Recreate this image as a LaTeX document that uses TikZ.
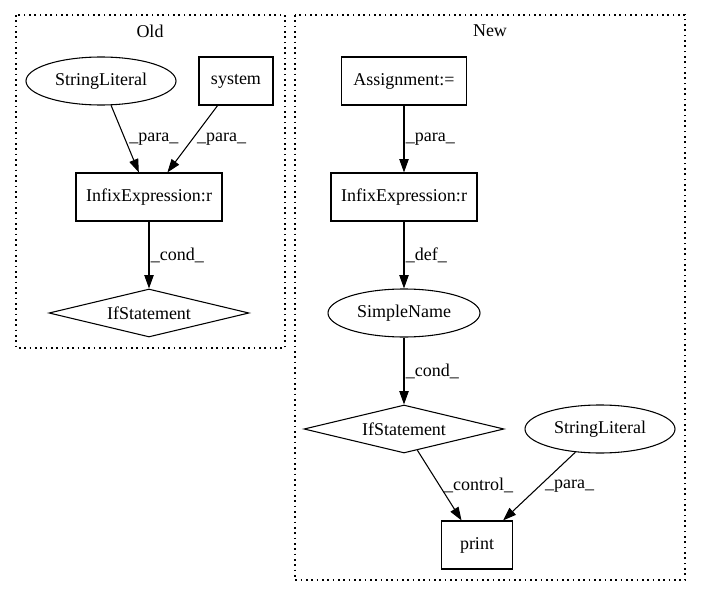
\documentclass[tikz,border=0pt]{standalone}
\usepackage{fontspec}
\setmainfont{Liberation Serif}
\usetikzlibrary{shapes.geometric, arrows.meta}

\begin{document}
\begin{tikzpicture}[x=0.75pt, y=-0.75pt,
  every node/.style={font=\fontsize{13.5}{16}\selectfont},
  box/.style={draw, rectangle, minimum height=36pt, inner sep=2pt, line width=0.8pt},
  oval/.style={draw, ellipse, minimum height=36pt, inner sep=1pt, line width=0.8pt},
  cond/.style={draw, diamond, aspect=4.17, minimum width=150pt, minimum height=36pt, inner sep=0pt, line width=0.8pt},
  edge/.style={-{Triangle[length=10pt,width=7pt]}, line width=0.8pt},
  lbl/.style={anchor=west, inner sep=3pt},
  cluster/.style={draw, dash pattern=on 1.2pt off 2.8pt, line width=0.9pt}
]
\useasboundingbox (0,0) rectangle (701,596);

% clusters
\draw[cluster] (16,15) rectangle (285,348);
\draw[cluster] (295,15) rectangle (685,580);
\node (tOld) at (150,31) {Old};
\node (tNew) at (490,31) {New};

% Old
\node[oval, minimum width=112.5pt] (sl1) at (101,81) {StringLiteral};
\node[box, minimum width=55.5pt] (sys) at (236,81) {system};
\node[box, minimum width=109.5pt] (inf1) at (149,197) {InfixExpression:r};
\node[cond] (if1) at (149,313) {IfStatement};

\draw[edge] (sl1) -- node[lbl, pos=0.5] {\_para\_} (inf1);
\draw[edge] (sys) -- node[lbl, pos=0.5] {\_para\_} (inf1);
\draw[edge] (inf1) -- node[lbl, pos=0.5, inner sep=1pt] {\_cond\_} (if1);

% New
\node[box, minimum width=94pt] (asg) at (404,81) {Assignment:=};
\node[box, minimum width=109.5pt] (inf2) at (404,197) {InfixExpression:r};
\node[oval, minimum width=114pt] (sn) at (404,313) {SimpleName};
\node[cond] (if2) at (404,429) {IfStatement};
\node[oval, minimum width=112.5pt] (sl2) at (600,429) {StringLiteral};
\node[box, minimum width=53pt] (pr) at (477,545) {print};

\draw[edge] (asg) -- node[lbl, pos=0.5, inner sep=1pt] {\_para\_} (inf2);
\draw[edge] (inf2) -- node[lbl, pos=0.5, inner sep=1pt] {\_def\_} (sn);
\draw[edge] (sn) -- node[lbl, pos=0.5, inner sep=1pt] {\_cond\_} (if2);
\draw[edge] (if2) -- node[lbl, pos=0.5] {\_control\_} (pr);
\draw[edge] (sl2) -- node[lbl, pos=0.5, inner sep=4pt] {\_para\_} (pr);
\end{tikzpicture}
\end{document}
